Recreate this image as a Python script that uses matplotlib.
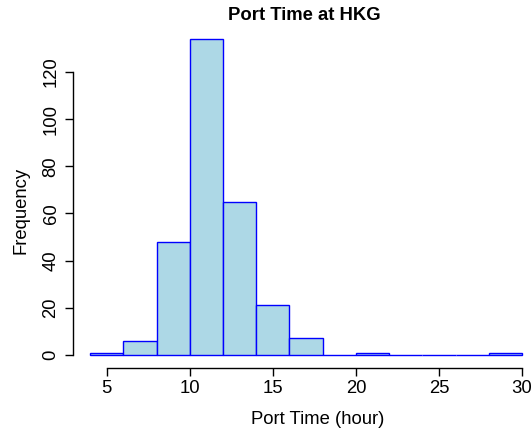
import matplotlib
matplotlib.use("Agg")
import matplotlib.pyplot as plt
import numpy as np

plt.rcParams['font.family'] = ['Liberation Sans', 'DejaVu Sans']

bin_edges = [4, 6, 8, 10, 12, 14, 16, 18, 20, 22, 24, 26, 28, 30]
counts = [1, 6, 48, 134, 65, 21, 7, 0, 1, 0, 0, 0, 1]
x_ticks = [5, 10, 15, 20, 25, 30]
y_ticks = [0, 20, 40, 60, 80, 100, 120]

W, H = 531, 430
fig = plt.figure(figsize=(W / 100, H / 100), dpi=100)

# plot region in pixels (R style, extends beyond right edge)
x_lo, x_hi = 4 - 0.04 * 26, 30 + 0.04 * 26
y_lo, y_hi = -0.04 * 134, 134 * 1.04
px_per_x = (522 - 106.7) / 25
left_px = 106.7 - (5 - x_lo) * px_per_x
right_px = 106.7 + (x_hi - 5) * px_per_x
px_per_y = (355 - 72) / 120
bottom_px = 355 + (0 - y_lo) * px_per_y
top_px = 355 - (y_hi - 0) * px_per_y

ax = fig.add_axes([left_px / W, 1 - bottom_px / H,
                   (right_px - left_px) / W, (bottom_px - top_px) / H])
ax.set_xlim(x_lo, x_hi)
ax.set_ylim(y_lo, y_hi)

edges = np.array(bin_edges, dtype=float)
ax.bar(edges[:-1], counts, width=np.diff(edges), align='edge',
       color='#ADD8E6', edgecolor='blue', linewidth=1.0)

for s in ['top', 'right']:
    ax.spines[s].set_visible(False)
ax.spines['left'].set_bounds(0, 120)
ax.spines['bottom'].set_bounds(5, 30)
ax.spines['left'].set_linewidth(1.0)
ax.spines['bottom'].set_linewidth(1.0)

fs = 13.3
ax.set_xticks(x_ticks)
ax.set_xticklabels([str(v) for v in x_ticks])
ax.set_yticks(y_ticks)
ax.set_yticklabels([str(v) for v in y_ticks], rotation=90, va='center')
ax.tick_params(axis='both', length=5.8, width=1.0, labelsize=fs)
ax.tick_params(axis='x', pad=3)
ax.tick_params(axis='y', pad=3.7)

fig.text(318 / W, 1 - 419 / H, 'Port Time (hour)', fontsize=fs,
         ha='center', va='center')
fig.text(21 / W, 1 - 210 / H, 'Frequency', fontsize=fs, rotation=90,
         ha='center', va='center')
fig.text(304 / W, 1 - 16 / H, 'Port Time at HKG', fontsize=fs,
         fontweight='bold', ha='center', va='center')

fig.savefig('out.png', dpi=100)
